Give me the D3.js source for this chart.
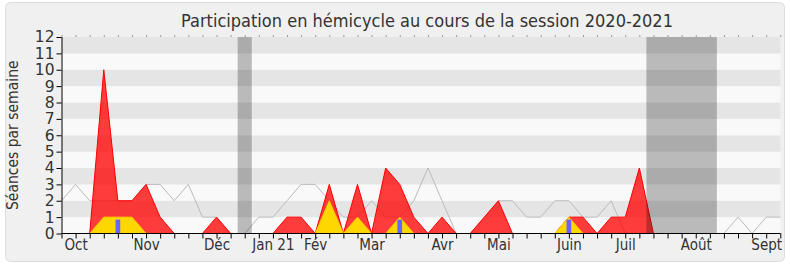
<!DOCTYPE html>
<html>
<head>
<meta charset="utf-8">
<script src="https://cdn.jsdelivr.net/npm/d3@7"></script>
<style>
  html, body { margin: 0; padding: 0; background: #ffffff; }
  svg { display: block; }
  text { font-family: "DejaVu Sans Condensed", "DejaVu Sans", sans-serif; fill: #333; }
</style>
</head>
<body>
<svg id="chart" width="790" height="267"></svg>
<script>
// ---- data ----
const title = "Participation en hémicycle au cours de la session 2020-2021";
const yLabel = "Séances par semaine";
const weeks = d3.range(52); // week index of the session
// average deputy (grey line)
const averageValues = [2,3,2,2,2,2,3,3,2,3,1,1,0,0,1,1,2,3,3,2,1,1,2,1,1,2,4,2,0,0,1,2,2,1,1,2,2,1,1,2,0,0,0,0,0,0,0,0,1,0,1,1];
// deputy presence (red area)
const presenceValues = [0,0,0,10,2,2,3,1,0,0,0,1,0,0,0,0,1,1,0,3,0,3,0,4,3,1,0,1,0,0,1,2,0,0,0,0,1,1,0,1,1,4,0,0,0,0,0,0,0,0,0,0];
// interventions (yellow area)
const interventionValues = [0,0,0,1,1,1,0,0,0,0,0,0,0,0,0,0,0,0,0,2,0,1,0,0,1,0,0,0,0,0,0,0,0,0,0,0,1,0,0,0,0,0,0,0,0,0,0,0,0,0,0,0];
// questions (blue bars)
const questionWeeks = [4, 24, 36];
const questionValues = [0.85, 0.85, 0.85];
// parliamentary breaks (week index ranges)
const breakStarts = [12.5, 41.5];
const breakEnds = [13.5, 46.5];
// month tick labels
const monthLabels = ["Oct","Nov","Déc","Jan 21","Fév","Mar","Avr","Mai","Juin","Juil","Août","Sept"];
const monthWeeks = [1,6,11,15,18,22,27,31,36,40,45,50];
const yTicks = d3.range(0, 13);

// ---- chart ----
const svg = d3.select("#chart");
const x = d3.scaleLinear().domain([0, 51]).range([61.5, 780.3]);
const y = d3.scaleLinear().domain([0, 12]).range([233.5, 37]);
const plotLeft = 61.5, plotRight = 780.5;
const FONT = '"DejaVu Sans Condensed", "DejaVu Sans", sans-serif';

// frame
svg.append("rect")
  .attr("x", 5.5).attr("y", 2.5).attr("width", 779).attr("height", 259)
  .attr("rx", 5).attr("ry", 5)
  .attr("fill", "#f0f0f0").attr("stroke", "#dcdcdc");

// background bands
svg.append("g").selectAll("rect")
  .data(d3.range(0, 12))
  .join("rect")
  .attr("x", plotLeft)
  .attr("width", plotRight - plotLeft)
  .attr("y", d => y(d + 1))
  .attr("height", d => y(d) - y(d + 1))
  .attr("fill", d => d % 2 === 1 ? "#e5e5e5" : "#f9f9f9");

// average grey line
svg.append("path")
  .datum(weeks)
  .attr("fill", "none")
  .attr("stroke", "#bbbbbb")
  .attr("stroke-width", 1)
  .attr("d", d3.line().x(i => x(i)).y(i => y(averageValues[i])));

// presence red area
svg.append("path")
  .datum(weeks)
  .attr("fill", "rgba(255,0,0,0.76)")
  .attr("stroke", "#ff0000")
  .attr("stroke-width", 1)
  .attr("d", d3.area().x(i => x(i)).y0(y(0)).y1(i => y(presenceValues[i])));

// interventions yellow area
svg.append("path")
  .datum(weeks)
  .attr("fill", "#ffd700")
  .attr("stroke", "#ffcc00")
  .attr("stroke-width", 1)
  .attr("d", d3.area().x(i => x(i)).y0(y(0)).y1(i => y(interventionValues[i])));

// questions blue bars
const barW = (x(1) - x(0)) / 3;
svg.append("g").selectAll("rect")
  .data(questionWeeks)
  .join("rect")
  .attr("x", (w) => x(w) - barW / 2)
  .attr("width", barW)
  .attr("y", (w, k) => y(questionValues[k]))
  .attr("height", (w, k) => y(0) - y(questionValues[k]))
  .attr("fill", "#6666ff");

// breaks
svg.append("g").selectAll("rect")
  .data(breakStarts)
  .join("rect")
  .attr("x", d => x(d))
  .attr("width", (d, k) => x(breakEnds[k]) - x(d))
  .attr("y", y(12))
  .attr("height", y(0) - y(12))
  .attr("fill", "rgba(0,0,0,0.25)");

// y axis
const yAxis = svg.append("g")
  .attr("transform", `translate(${plotLeft},0)`)
  .call(d3.axisLeft(y).tickValues(yTicks).tickSize(5).tickPadding(2).tickFormat(d3.format("d")));
yAxis.select(".domain").attr("stroke", "#000").attr("d", `M0.5,${y(12)}V${y(0)}`);
yAxis.selectAll(".tick line").attr("stroke", "#000");
yAxis.selectAll(".tick text")
  .attr("font-size", 15.5).attr("fill", "#333")
  .style("font-family", '"DejaVu Sans", sans-serif');

// x axis (week ticks)
const xAxis = svg.append("g")
  .attr("transform", `translate(0,${y(0)})`)
  .call(d3.axisBottom(x).tickValues(weeks).tickSize(5).tickFormat(""));
xAxis.select(".domain").attr("stroke", "#000").attr("d", `M${plotLeft},0H${plotRight}`);
xAxis.selectAll(".tick line").attr("stroke", "#000");

// month labels
const mAxis = svg.append("g")
  .attr("transform", `translate(0,${y(0)})`)
  .call(d3.axisBottom(x).tickValues(monthWeeks).tickSize(0).tickPadding(6)
    .tickFormat((d, k) => monthLabels[k]));
mAxis.select(".domain").remove();
mAxis.selectAll(".tick text")
  .attr("font-size", 15).attr("fill", "#333")
  .style("font-family", FONT);

// top dotted ticks
const tAxis = svg.append("g")
  .attr("transform", `translate(0,${y(12) - 0.5})`)
  .call(d3.axisTop(x).tickValues(weeks).tickSize(1).tickFormat(""));
tAxis.select(".domain").remove();
tAxis.selectAll(".tick line").attr("stroke", "#444");

// title
svg.append("text")
  .attr("x", 427).attr("y", 26.5)
  .attr("text-anchor", "middle")
  .attr("font-size", 18)
  .text(title);

// y label
svg.append("text")
  .attr("transform", `translate(18,${(y(0) + y(12)) / 2}) rotate(-90)`)
  .attr("text-anchor", "middle")
  .attr("font-size", 15.5)
  .text(yLabel);
</script>
</body>
</html>
